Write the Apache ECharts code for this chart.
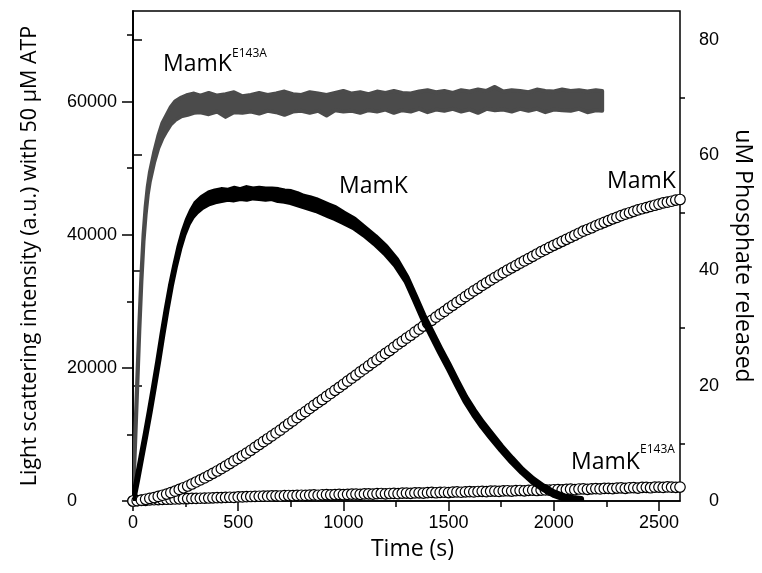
<!DOCTYPE html>
<html>
<head>
<meta charset="utf-8">
<script src="https://cdn.jsdelivr.net/npm/echarts@6/dist/echarts.min.js"></script>
<style>html,body{margin:0;padding:0;background:#fff}#c{width:762px;height:573px}</style>
</head>
<body>
<div id="c"></div>
<script>
// ---- Axis tick values ----
const xMajorTicks = [0, 500, 1000, 1500, 2000, 2500];
const xMinorTicks = [250, 750, 1250, 1750, 2250];
const yLeftMajorTicks = [0, 20000, 40000, 60000];
const yLeftMinorTicks = [10000, 30000, 50000, 70000];
const yRightMajorTicks = [0, 20, 40, 60, 80];
const yRightMinorTicks = [10, 30, 50, 70];

// ---- Light scattering MamK E143A (grey band: time, low edge, high edge) ----
const grayTime = [0,10,20,30,40,50,60,70,80,100,120,140,160,180,200,230,260,290,320,360,400,440,480,520,560,600,640,680,720,760,800,840,880,920,960,1000,1040,1080,1120,1160,1200,1240,1280,1320,1360,1400,1440,1480,1520,1560,1600,1640,1680,1720,1760,1800,1840,1880,1920,1960,2000,2040,2080,2120,2160,2200,2230];
const grayLow  = [0,8500,17000,25500,33000,39000,43000,46000,48000,50800,53000,54500,55600,56600,57200,57800,58000,58300,58400,58100,58500,57700,58400,58300,58500,58200,58600,58400,58000,58500,58600,58300,58600,57900,58700,58500,58600,58300,58700,58500,58800,58300,58700,58500,58900,58400,58800,58600,58900,58500,58800,58300,58900,58700,58800,58500,58900,58600,58900,58400,58800,58700,58600,58900,58400,58700,58600];
const grayHigh = [0,9500,18000,26500,34000,40000,44200,47200,49300,52300,54800,56800,58000,59200,60000,60600,61000,61200,60900,61300,60900,61100,61400,60800,61000,61300,61000,61200,61500,61100,61000,61400,61200,61000,61300,61600,61200,61400,61100,61500,61300,61600,61300,61200,61500,61700,61400,61600,61300,61700,61500,61800,61600,62200,61500,61700,61600,61400,61800,61600,61500,61800,61600,61700,61500,61700,61600];

// ---- Light scattering MamK (black band: time, low edge, high edge) ----
const blackTime = [0,20,40,60,80,100,120,140,160,180,200,220,240,260,280,300,330,360,390,420,450,480,510,540,570,600,630,660,690,720,750,780,810,840,870,900,930,960,1000,1050,1100,1150,1200,1250,1300,1340,1380,1420,1460,1500,1540,1580,1620,1660,1700,1750,1800,1850,1900,1950,2000,2050,2100,2130];
const blackLow  = [0,3200,6600,10000,13500,17200,21000,25000,28800,32300,35300,37900,40000,41600,42700,43400,44200,44700,45000,45200,45400,45300,45500,45400,45600,45500,45400,45500,45200,45100,44900,44600,44300,44000,43700,43300,42900,42500,41900,41100,40000,38700,37200,35400,33000,30200,27300,24800,22300,19900,17400,15000,13000,11200,9600,7700,5900,4300,2900,1800,900,350,100,100];
const blackHigh = [0,3200,6600,10000,13500,17200,21000,25000,28800,32300,35300,38100,40400,42200,43600,44700,45600,46200,46500,46700,46600,46900,46700,47000,46800,46900,46800,46800,46700,46500,46400,46100,45700,45500,45200,44800,44400,44000,43200,42300,41000,39700,38200,36300,33600,30800,27900,25400,22900,20500,18000,15600,13600,11800,10200,8200,6400,4700,3300,2200,1300,700,400,300];

// ---- Phosphate released (uM), sampled every 20 s from t = 0 ----
const piStep = 20;
const piMamK = [
0,0.05,0.15,0.3,0.45,0.6,0.8,1.0,1.2,1.45,1.7,
2.0,2.3,2.6,2.95,3.3,3.65,4.0,4.4,4.8,5.2,
5.6,6.05,6.5,6.95,7.4,7.85,8.3,8.8,9.3,9.8,
10.3,10.8,11.3,11.8,12.3,12.85,13.4,13.9,14.45,15.0,
15.5,16.05,16.6,17.1,17.6,18.15,18.65,19.2,19.7,20.25,
20.8,21.3,21.85,22.4,22.9,23.45,24.0,24.5,25.05,25.6,
26.1,26.65,27.2,27.7,28.25,28.75,29.3,29.8,30.35,30.85,
31.35,31.9,32.4,32.9,33.45,33.95,34.45,34.95,35.45,35.95,
36.45,36.9,37.4,37.85,38.3,38.75,39.2,39.6,40.05,40.45,
40.85,41.25,41.65,42.05,42.45,42.85,43.25,43.6,44.0,44.35,
44.7,45.05,45.4,45.75,46.1,46.45,46.8,47.1,47.4,47.75,
48.05,48.35,48.65,48.95,49.2,49.5,49.75,50.0,50.25,50.5,
50.7,50.9,51.1,51.3,51.5,51.7,51.85,52.0,52.2,52.3];
const piE143A = [
0,0.05,0.1,0.12,0.18,0.22,0.25,0.28,0.3,0.33,0.35,
0.38,0.4,0.42,0.45,0.44,0.48,0.5,0.52,0.55,0.58,
0.6,0.62,0.65,0.63,0.7,0.72,0.75,0.78,0.8,0.82,
0.85,0.83,0.88,0.9,0.87,0.92,0.95,0.93,0.97,1.0,
0.98,1.02,1.05,1.0,1.08,1.1,1.07,1.12,1.15,1.1,
1.15,1.18,1.2,1.16,1.22,1.25,1.2,1.28,1.3,1.25,
1.3,1.32,1.28,1.35,1.38,1.33,1.4,1.42,1.38,1.45,
1.48,1.43,1.5,1.52,1.47,1.55,1.58,1.52,1.6,1.62,
1.58,1.65,1.68,1.62,1.7,1.72,1.67,1.75,1.78,1.72,
1.8,1.82,1.77,1.85,1.88,1.82,1.9,1.92,1.87,1.95,
1.98,1.92,2.0,2.05,1.97,2.08,2.1,2.03,2.12,2.15,
2.1,2.18,2.2,2.14,2.25,2.28,2.2,2.3,2.32,2.25,
2.35,2.38,2.3,2.4,2.42,2.35,2.45,2.4,2.38,2.42];

// ---- Annotation texts ----
const labelName = 'MamK';
const labelSup = 'E143A';

const TICK_FONT = 'Liberation Sans';
const TITLE_FONT = 'Open Sans';

function bandSeries(name, T, lo, hi, color, width, z) {
  const data = T.map((t, i) => [t, lo[i], hi[i]]);
  return {
    name: name, type: 'custom', xAxisIndex: 0, yAxisIndex: 0, z: z, silent: true,
    clip: true, data: data,
    encode: { x: 0, y: [1, 2] },
    renderItem: function (params, api) {
      if (params.dataIndex !== 0) return null;
      const pts = [];
      for (let i = 0; i < data.length; i++) pts.push(api.coord([data[i][0], data[i][2]]));
      for (let i = data.length - 1; i >= 0; i--) pts.push(api.coord([data[i][0], data[i][1]]));
      return { type: 'polygon', shape: { points: pts },
        style: { fill: color, stroke: color, lineWidth: width, lineJoin: 'round' } };
    }
  };
}

function scatterSeries(name, vals) {
  return {
    name: name, type: 'scatter', xAxisIndex: 0, yAxisIndex: 1, z: 2, silent: true,
    symbol: 'circle', symbolSize: 10.5,
    data: vals.map((v, i) => [i * piStep, v]),
    itemStyle: { color: '#fff', borderColor: '#000', borderWidth: 1.2, opacity: 1 }
  };
}

const axisLineStyle = { color: '#000', width: 1.5 };
const plain = function (v) { return String(v); };
const tickLabel = { color: '#000', fontFamily: TICK_FONT, fontSize: 18, formatter: plain };

const chart = echarts.init(document.getElementById('c'), null, { renderer: 'canvas' });
chart.setOption({
  animation: false,
  backgroundColor: '#fff',
  grid: { left: 133, right: 74, top: 11, bottom: 72, show: true, borderColor: '#000', borderWidth: 1.5, backgroundColor: 'transparent' },
  xAxis: [
    { type: 'value', min: 0, max: 2600, position: 'bottom',
      axisLine: { show: true, lineStyle: axisLineStyle },
      axisTick: { show: true, customValues: xMajorTicks, length: 10, lineStyle: axisLineStyle },
      axisLabel: Object.assign({ customValues: xMajorTicks, margin: 13 }, tickLabel),
      splitLine: { show: false },
      name: 'Time (s)', nameLocation: 'middle', nameGap: 37,
      nameTextStyle: { color: '#000', fontFamily: TITLE_FONT, fontSize: 23, padding: [0, 0, 0, 12] } },
    { type: 'value', min: 0, max: 2600, position: 'bottom',
      axisLine: { show: false },
      axisTick: { show: true, customValues: xMinorTicks, length: 6, lineStyle: axisLineStyle },
      axisLabel: { show: false }, splitLine: { show: false } }
  ],
  yAxis: [
    { type: 'value', min: 0, max: 73600, position: 'left',
      axisLine: { show: true, lineStyle: axisLineStyle },
      axisTick: { show: true, customValues: yLeftMajorTicks, length: 11, lineStyle: axisLineStyle },
      axisLabel: Object.assign({ customValues: yLeftMajorTicks, margin: 66, align: 'left' }, tickLabel),
      splitLine: { show: false },
      name: 'Light scattering intensity (a.u.) with 50 \u03bcM ATP', nameLocation: 'middle', nameGap: 92,
      nameTextStyle: { color: '#000', fontFamily: TITLE_FONT, fontSize: 21.5 } },
    { type: 'value', min: 0, max: 85, position: 'right',
      axisLine: { show: true, lineStyle: axisLineStyle },
      axisTick: { show: true, customValues: yRightMajorTicks, length: 9, lineStyle: axisLineStyle },
      axisLabel: Object.assign({ customValues: yRightMajorTicks, margin: 39, align: 'right' }, tickLabel),
      splitLine: { show: false },
      name: 'uM Phosphate released', nameLocation: 'middle', nameGap: 51, nameRotate: -90,
      nameTextStyle: { color: '#000', fontFamily: TITLE_FONT, fontSize: 23 } },
    { type: 'value', min: 0, max: 73600, position: 'left',
      axisLine: { show: false },
      axisTick: { show: true, customValues: yLeftMinorTicks, length: 6, lineStyle: axisLineStyle },
      axisLabel: { show: false }, splitLine: { show: false } },
    { type: 'value', min: 0, max: 85, position: 'right',
      axisLine: { show: false },
      axisTick: { show: true, customValues: yRightMinorTicks, length: 5, lineStyle: axisLineStyle },
      axisLabel: { show: false }, splitLine: { show: false } }
  ],
  series: [
    scatterSeries('Pi MamK E143A', piE143A),
    scatterSeries('Pi MamK', piMamK),
    bandSeries('LS MamK E143A', grayTime, grayLow, grayHigh, '#4b4b4b', 4, 3),
    bandSeries('LS MamK', blackTime, blackLow, blackHigh, '#000000', 6, 4)
  ],
  graphic: [
    { type: 'text', x: 163, y: 64, z: 10, style: { text: labelName, fill: '#000', font: '23px "Open Sans"', verticalAlign: 'middle', align: 'left' } },
    { type: 'text', x: 232, y: 54, z: 10, style: { text: labelSup, fill: '#000', font: '12px "Open Sans"', verticalAlign: 'middle', align: 'left' } },
    { type: 'text', x: 339, y: 186, z: 10, style: { text: labelName, fill: '#000', font: '23px "Open Sans"', verticalAlign: 'middle', align: 'left' } },
    { type: 'text', x: 607, y: 181, z: 10, style: { text: labelName, fill: '#000', font: '23px "Open Sans"', verticalAlign: 'middle', align: 'left' } },
    { type: 'text', x: 571, y: 462, z: 10, style: { text: labelName, fill: '#000', font: '23px "Open Sans"', verticalAlign: 'middle', align: 'left' } },
    { type: 'text', x: 640, y: 450, z: 10, style: { text: labelSup, fill: '#000', font: '12px "Open Sans"', verticalAlign: 'middle', align: 'left' } }
  ]
});
</script>
</body>
</html>
